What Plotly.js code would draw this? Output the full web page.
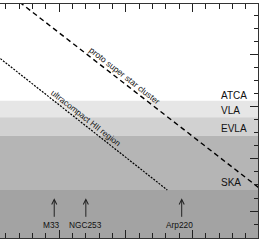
<!DOCTYPE html>
<html>
<head>
<meta charset="utf-8">
<script src="https://cdn.plot.ly/plotly-3.0.1.min.js"></script>
<style>html,body{margin:0;padding:0;background:#fff;}#chart{width:261px;height:241px;}</style>
</head>
<body>
<div id="chart"></div>
<script>
// log10 distance (Mpc) on x, log10 flux limit on y
const telescopes = ['ATCA', 'VLA', 'EVLA', 'SKA'];
const sensitivity = [2.113, 1.795, 1.443, 0.404];
const bandColors = ['#e6e6e6', '#d1d1d1', '#b5b5b5', '#a3a3a3'];

const protoLogD = [-1.0, 3.1];
const protoFlux = [4.40, 0.341];
const uchiiLogD = [-1.0, 1.62];
const uchiiFlux = [3.035, 0.404];

const galaxies = ['M33', 'NGC253', 'Arp220'];
const galaxyLogD = [-0.076, 0.398, 1.836];

const xRange = [-0.8895, 2.9805];
const yRange = [-0.515, 3.964];
const FONT = 'Liberation Sans, Arial, sans-serif';

const traces = [
  {x: protoLogD, y: protoFlux, mode: 'lines', hoverinfo: 'skip',
   line: {color: '#000', width: 1.4, dash: '5px,3.5px'}},
  {x: uchiiLogD, y: uchiiFlux, mode: 'lines', hoverinfo: 'skip',
   line: {color: '#000', width: 1.2, dash: '2px,1.3px'}}
];

const shapes = [];
for (let i = 0; i < sensitivity.length; i++) {
  const top = sensitivity[i];
  const bottom = i + 1 < sensitivity.length ? sensitivity[i + 1] : yRange[0];
  shapes.push({type: 'rect', xref: 'paper', yref: 'y', x0: 0, x1: 1, y0: bottom, y1: top,
    fillcolor: bandColors[i], line: {width: 0}, layer: 'below'});
}

const labelOffsets = [0.103, 0.14, 0.142, 0.14];
const annotations = [];
telescopes.forEach((t, i) => {
  annotations.push({x: 2.40, y: sensitivity[i] + labelOffsets[i], xref: 'x', yref: 'y',
    text: t, showarrow: false, xanchor: 'left', yanchor: 'middle',
    font: {family: FONT, size: 10, color: '#111'}});
});
const labelShift = [-3, -0.5, -2.7];
galaxies.forEach((g, i) => {
  annotations.push({x: galaxyLogD[i], y: 0.245, ax: galaxyLogD[i], ay: -0.138,
    xref: 'x', yref: 'y', axref: 'x', ayref: 'y', text: '', showarrow: true,
    arrowhead: 5, arrowsize: 1, arrowwidth: 1, arrowcolor: '#222'});
  annotations.push({x: galaxyLogD[i], y: -0.266, xref: 'x', yref: 'y', text: g,
    showarrow: false, xanchor: 'center', yanchor: 'middle', xshift: labelShift[i],
    font: {family: FONT, size: 8.3, color: '#111'}});
});
annotations.push({x: 0.985, y: 2.586, xref: 'x', yref: 'y', text: 'proto super star cluster',
  showarrow: false, textangle: 38, xanchor: 'center', yanchor: 'middle',
  font: {family: FONT, size: 8.5, color: '#111'}});
annotations.push({x: 0.40, y: 1.782, xref: 'x', yref: 'y', text: 'ultracompact HII region',
  showarrow: false, textangle: 38, xanchor: 'center', yanchor: 'middle',
  font: {family: FONT, size: 8.3, color: '#111'}});

const layout = {
  width: 261, height: 241,
  margin: {l: 0, r: 3, t: 4, b: 3, pad: 0},
  paper_bgcolor: '#fff', plot_bgcolor: '#fff',
  showlegend: false,
  xaxis: {range: xRange, showgrid: false, zeroline: false, showticklabels: false,
    showline: true, linecolor: '#333', linewidth: 1, mirror: 'ticks',
    ticks: 'inside', tick0: 0, dtick: 1, ticklen: 8, tickcolor: '#222', tickwidth: 1,
    minor: {ticks: 'inside', dtick: 0.2, tick0: 0, ticklen: 5, tickcolor: '#222', tickwidth: 1, showgrid: false}},
  yaxis: {range: yRange, side: 'right', showgrid: false, zeroline: false, showticklabels: false,
    showline: true, linecolor: '#333', linewidth: 1,
    ticks: 'inside', tick0: 0, dtick: 1, ticklen: 8, tickcolor: '#222', tickwidth: 1,
    minor: {ticks: 'inside', dtick: 0.25, tick0: 0, ticklen: 4, tickcolor: '#222', tickwidth: 1, showgrid: false}},
  shapes: shapes,
  annotations: annotations
};

Plotly.newPlot('chart', traces, layout, {staticPlot: true, displayModeBar: false});
</script>
</body>
</html>
